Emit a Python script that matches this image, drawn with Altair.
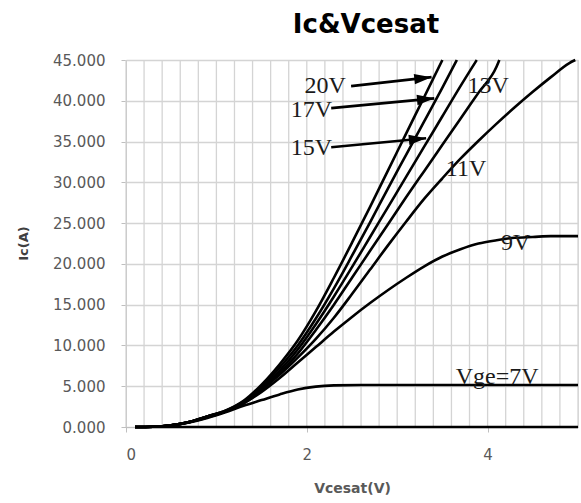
import altair as alt
import pandas as pd

# ---- data ----
x_steep = [0.1, 0.3, 0.5, 0.7, 0.9, 1.1, 1.3, 1.5, 1.7, 1.9, 2.1, 2.3, 2.5, 2.7, 2.9, 3.1, 3.3, 3.5, 3.7, 3.9, 4.1, 4.3, 4.5, 4.7, 4.9]

v20_x = x_steep[:18]
v20_y = [0, 0.03, 0.2, 0.6, 1.3, 2.0, 3.2, 5.2, 7.7, 10.6, 14.2, 18.3, 22.6, 27.0, 31.5, 36.0, 40.5, 45.0]

v17_x = x_steep[:18] + [3.66]
v17_y = [0, 0.03, 0.2, 0.6, 1.3, 2.0, 3.1, 4.9, 7.3, 10.0, 13.3, 17.0, 21.0, 25.1, 29.3, 33.4, 37.5, 41.6, 45.0]

v15_x = x_steep[:19] + [3.88]
v15_y = [0, 0.03, 0.2, 0.6, 1.3, 1.9, 3.0, 4.7, 6.9, 9.5, 12.6, 16.0, 19.6, 23.3, 27.0, 30.7, 34.4, 38.1, 41.8, 45.0]

v13_x = x_steep[:21] + [4.13]
v13_y = [0, 0.03, 0.2, 0.6, 1.3, 1.9, 2.9, 4.5, 6.6, 9.0, 11.9, 15.0, 18.3, 21.6, 24.9, 28.2, 31.4, 34.6, 37.8, 41.0, 44.2, 45.0]

v11_x = x_steep + [4.97]
v11_y = [0, 0.03, 0.2, 0.6, 1.2, 1.9, 3.1, 4.6, 6.4, 8.5, 10.8, 13.4, 16.3, 19.3, 22.3, 25.2, 28.0, 30.5, 32.9, 35.1, 37.2, 39.2, 41.1, 42.9, 44.6, 45.0]

v9_x = x_steep + [5.0]
v9_y = [0, 0.03, 0.2, 0.6, 1.2, 1.9, 2.9, 4.3, 6.0, 7.9, 9.8, 11.7, 13.5, 15.2, 16.8, 18.3, 19.7, 20.9, 21.8, 22.5, 22.9, 23.2, 23.3, 23.4, 23.4, 23.4]

v7_x = [0.1, 0.3, 0.5, 0.7, 0.9, 1.1, 1.3, 1.5, 1.7, 1.9, 2.1, 2.3, 2.6, 3.0, 4.0, 5.0]
v7_y = [0, 0.03, 0.2, 0.55, 1.1, 1.8, 2.6, 3.3, 4.0, 4.6, 4.95, 5.1, 5.15, 5.15, 5.15, 5.15]

v0_x = [0.1, 5.0]
v0_y = [0, 0]

series = {
    "20V": (v20_x, v20_y), "17V": (v17_x, v17_y), "15V": (v15_x, v15_y),
    "13V": (v13_x, v13_y), "11V": (v11_x, v11_y), "9V": (v9_x, v9_y),
    "7V": (v7_x, v7_y), "0V": (v0_x, v0_y),
}
rows = []
for name, (xs, ys) in series.items():
    for a, b in zip(xs, ys):
        rows.append({"series": name, "x": a, "y": b})
df = pd.DataFrame(rows)

label_text = ["20V", "17V", "15V", "13V", "11V", "9V", "Vge=7V"]
label_x = [2.204, 2.05, 2.05, 4.005, 3.762, 4.31, 4.105]
label_y = [41.81, 38.87, 34.21, 41.81, 31.63, 22.56, 6.13]
labels = pd.DataFrame({"t": label_text, "x": label_x, "y": label_y})

arrow_x1 = [2.49, 2.27, 2.27]
arrow_y1 = [41.8, 39.1, 34.3]
arrow_x2 = [3.38, 3.41, 3.32]
arrow_y2 = [42.9, 40.3, 35.4]
arrow_angle = [353.6, 354.5, 354.6]
arrows = pd.DataFrame({"x": arrow_x1, "y": arrow_y1, "x2": arrow_x2, "y2": arrow_y2, "a": arrow_angle})

x_grid = [round(i * 0.2, 1) for i in range(26)]
x_labels = [0, 2, 4]
y_ticks = [0, 5, 10, 15, 20, 25, 30, 35, 40, 45]
grid_df = pd.DataFrame({"g": x_grid})

xscale = alt.Scale(domain=[0, 5], nice=False, zero=False)
yscale = alt.Scale(domain=[0, 45], nice=False)

xaxis = alt.Axis(
    values=x_labels, format="d", grid=False,
    title="Vcesat(V)", titleX=226, titleY=61, titleBaseline="middle",
    titleFont="DejaVu Sans", titleFontSize=14, titleFontWeight="bold", titleColor="#595959",
    labelFont="DejaVu Sans", labelFontSize=15, labelColor="#595959", labelPadding=15,
    tickSize=5, tickColor="#bfbfbf", domainColor="#bfbfbf",
)
yaxis = alt.Axis(
    values=y_ticks, format=".3f", title="Ic(A)", titleX=-103, titleY=183,
    titleAngle=270, titleAlign="center", titleBaseline="middle",
    titleFont="DejaVu Sans", titleFontSize=13, titleFontWeight="bold", titleColor="#404040",
    labelFont="DejaVu Sans", labelFontSize=15, labelColor="#595959", labelPadding=16,
    tickSize=5, tickColor="#bfbfbf", domainColor="#bfbfbf", gridColor="#d4d4d4", gridWidth=1.3,
)

vgrid = alt.Chart(grid_df).mark_rule(color="#d4d4d4", strokeWidth=1.3).encode(
    x=alt.X("g:Q", scale=xscale, axis=xaxis)
)

lines = alt.Chart(df).mark_line(color="black", strokeWidth=2.6, interpolate="monotone").encode(
    x=alt.X("x:Q", scale=xscale, axis=xaxis),
    y=alt.Y("y:Q", scale=yscale, axis=yaxis),
    detail="series:N",
)

rules = alt.Chart(arrows).mark_rule(color="black", strokeWidth=2.6).encode(
    x="x:Q", y="y:Q", x2="x2:Q", y2="y2:Q"
)

heads = alt.Chart(arrows).mark_point(
    shape="M0,0L-2,-0.6L-2,0.6Z", filled=True, color="black", opacity=1, size=300
).encode(x="x2:Q", y="y2:Q", angle=alt.Angle("a:Q", scale=None))

texts = alt.Chart(labels).mark_text(
    font="Liberation Serif", fontSize=24, color="#1a1a1a", align="center", baseline="middle"
).encode(x="x:Q", y="y:Q", text="t:N")

chart = alt.layer(vgrid, lines, rules, heads, texts).properties(
    width=452, height=367,
    title=alt.TitleParams("Ic&Vcesat", font="DejaVu Sans", fontSize=26, fontWeight="bold",
                          color="black", anchor="middle", dx=14, dy=10, offset=4, baseline="alphabetic"),
    autosize=alt.AutoSizeParams(type="none"),
    padding={"left": 126, "top": 60, "right": 3, "bottom": 76},
).configure_view(stroke=None).configure(background="white")

chart.save("out.html", embed_options={"renderer": "svg", "actions": False})
